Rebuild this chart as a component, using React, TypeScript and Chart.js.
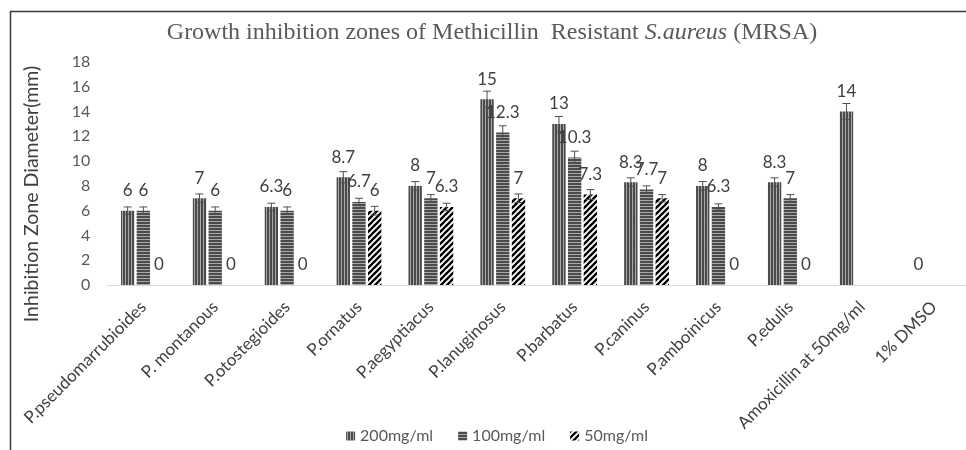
import React, { useEffect, useRef } from "react";
import { Chart, registerables } from "chart.js";

Chart.register(...registerables);

const categories = [
  "P.pseudomarrubioides",
  "P. montanous",
  "P.otostegioides",
  "P.ornatus",
  "P.aegyptiacus",
  "P.lanuginosus",
  "P.barbatus",
  "P.caninus",
  "P.amboinicus",
  "P.edulis",
  "Amoxicillin at 50mg/ml",
  "1% DMSO",
];

const seriesNames = ["200mg/ml", "100mg/ml", "50mg/ml"];

const values200 = [6, 7, 6.3, 8.7, 8, 15, 13, 8.3, 8, 8.3, 14, 0];
const values100 = [6, 6, 6, 6.7, 7, 12.3, 10.3, 7.7, 6.3, 7, null, null];
const values50 = [0, 0, 0, 6, 6.3, 7, 7.3, 7, 0, 0, null, null];

const errors200 = [0.3, 0.35, 0.3, 0.45, 0.35, 0.65, 0.6, 0.35, 0.35, 0.35, 0.65, 0];
const errors100 = [0.3, 0.3, 0.3, 0.3, 0.3, 0.55, 0.5, 0.3, 0.25, 0.3, null, null];
const errors50 = [0, 0, 0, 0.35, 0.3, 0.35, 0.4, 0.3, 0, 0, null, null];

const yTicks = [0, 2, 4, 6, 8, 10, 12, 14, 16, 18];

const titleParts = [
  { text: "Growth inhibition zones of Methicillin  Resistant ", italic: false },
  { text: "S.aureus", italic: true },
  { text: " (MRSA)", italic: false },
];
const yTitle = "Inhibition Zone Diameter(mm)";

const SANS = "Lato, 'Open Sans', sans-serif";
const SERIF = "'Liberation Serif', 'DejaVu Serif', serif";

function makePattern(kind: string): CanvasPattern | string {
  const c = document.createElement("canvas");
  const ctx = c.getContext("2d");
  if (!ctx) return "#555";
  if (kind === "v") {
    c.width = 3;
    c.height = 3;
    ctx.fillStyle = "#4a4a4a";
    ctx.fillRect(0, 0, 3, 3);
    ctx.fillStyle = "#a8a8a8";
    ctx.fillRect(2, 0, 1, 3);
  } else if (kind === "h") {
    c.width = 3;
    c.height = 3;
    ctx.fillStyle = "#4a4a4a";
    ctx.fillRect(0, 0, 3, 3);
    ctx.fillStyle = "#a8a8a8";
    ctx.fillRect(0, 2, 3, 1);
  } else {
    c.width = 6;
    c.height = 6;
    ctx.fillStyle = "#ffffff";
    ctx.fillRect(0, 0, 6, 6);
    ctx.strokeStyle = "#000000";
    ctx.lineWidth = 2.3;
    ctx.beginPath();
    ctx.moveTo(-1, 7);
    ctx.lineTo(7, -1);
    ctx.moveTo(-4, 4);
    ctx.lineTo(4, -4);
    ctx.moveTo(2, 10);
    ctx.lineTo(10, 2);
    ctx.stroke();
  }
  const p = ctx.createPattern(c, "repeat");
  return p || "#555";
}

const errorSets = [errors200, errors100, errors50];

const framePlugin = {
  id: "frame",
  beforeDraw(chart: any) {
    const ctx = chart.ctx;
    ctx.save();
    ctx.fillStyle = "#ffffff";
    ctx.fillRect(0, 0, chart.width, chart.height);
    ctx.strokeStyle = "#3a3a3a";
    ctx.lineWidth = 1.5;
    ctx.beginPath();
    ctx.moveTo(10.5, chart.height);
    ctx.lineTo(10.5, 11.5);
    ctx.lineTo(chart.width, 11.5);
    ctx.stroke();
    ctx.restore();
  },
};

const titlePlugin = {
  id: "mixedTitle",
  afterDraw(chart: any) {
    const ctx = chart.ctx;
    ctx.save();
    const size = 24;
    const fonts = titleParts.map((p) => `${p.italic ? "italic " : ""}${size}px ${SERIF}`);
    let total = 0;
    const widths = titleParts.map((p, i) => {
      ctx.font = fonts[i];
      const w = ctx.measureText(p.text).width;
      total += w;
      return w;
    });
    let x = 492 - total / 2;
    const y = 33;
    ctx.fillStyle = "#595959";
    ctx.textBaseline = "middle";
    ctx.textAlign = "left";
    titleParts.forEach((p, i) => {
      ctx.font = fonts[i];
      ctx.fillText(p.text, x, y);
      x += widths[i];
    });
    // y-axis title
    ctx.font = `19.5px ${SANS}`;
    ctx.fillStyle = "#404040";
    ctx.textAlign = "center";
    ctx.translate(32, 194);
    ctx.rotate(-Math.PI / 2);
    ctx.fillText(yTitle, 0, 0);
    ctx.restore();
  },
};

const legendPlugin = {
  id: "patternLegend",
  afterDraw(chart: any) {
    const ctx = chart.ctx;
    ctx.save();
    ctx.font = `16px ${SANS}`;
    ctx.textBaseline = "middle";
    ctx.textAlign = "left";
    const box = 9;
    const gapBoxText = 5;
    const gapItems = 25;
    const widths = seriesNames.map((n) => box + gapBoxText + ctx.measureText(n).width);
    const total = widths.reduce((a, b) => a + b, 0) + gapItems * (widths.length - 1);
    let x = 497 - total / 2;
    const y = 436;
    seriesNames.forEach((n, i) => {
      ctx.fillStyle = chart.data.datasets[i].backgroundColor;
      ctx.fillRect(x, y - box / 2, box, box);
      ctx.fillStyle = "#595959";
      ctx.fillText(n, x + box + gapBoxText, y);
      x += widths[i] + gapItems;
    });
    ctx.restore();
  },
};

const barExtrasPlugin = {
  id: "barExtras",
  afterDatasetsDraw(chart: any) {
    const ctx = chart.ctx;
    const yScale = chart.scales.y;
    ctx.save();
    chart.data.datasets.forEach((ds: any, di: number) => {
      const meta = chart.getDatasetMeta(di);
      const errs = errorSets[di];
      meta.data.forEach((el: any, i: number) => {
        const v = ds.data[i];
        if (v === null || v === undefined) return;
        const e = errs[i];
        if (e) {
          const yTop = yScale.getPixelForValue(v + e);
          const yBot = yScale.getPixelForValue(v - e);
          ctx.strokeStyle = "#505050";
          ctx.lineWidth = 1;
          ctx.beginPath();
          ctx.moveTo(el.x, yTop);
          ctx.lineTo(el.x, yBot);
          ctx.moveTo(el.x - 4, yTop);
          ctx.lineTo(el.x + 4, yTop);
          ctx.moveTo(el.x - 4, yBot);
          ctx.lineTo(el.x + 4, yBot);
          ctx.stroke();
        }
      });
    });
    ctx.font = `17px ${SANS}`;
    ctx.fillStyle = "#404040";
    ctx.textAlign = "center";
    ctx.textBaseline = "middle";
    chart.data.datasets.forEach((ds: any, di: number) => {
      const meta = chart.getDatasetMeta(di);
      meta.data.forEach((el: any, i: number) => {
        const v = ds.data[i];
        if (v === null || v === undefined) return;
        const y = yScale.getPixelForValue(v) - 20;
        ctx.fillText(String(v), el.x, y);
      });
    });
    ctx.restore();
  },
};

export default function App() {
  const ref = useRef<HTMLCanvasElement | null>(null);
  useEffect(() => {
    if (!ref.current) return;
    const patterns = [makePattern("v"), makePattern("h"), makePattern("d")];
    const allData = [values200, values100, values50];
    const chart = new Chart(ref.current, {
      type: "bar",
      data: {
        labels: categories,
        datasets: allData.map((d, i) => ({
          label: seriesNames[i],
          data: d as any,
          backgroundColor: patterns[i] as any,
          borderWidth: 0,
          categoryPercentage: 0.655,
          barPercentage: 0.85,
        })),
      },
      options: {
        responsive: false,
        animation: false,
        devicePixelRatio: 1,
        layout: { padding: { top: 62, left: 0, right: 0, bottom: 0 } },
        plugins: {
          legend: { display: false },
          title: { display: false },
          tooltip: { enabled: false },
        },
        scales: {
          x: {
            grid: { display: false },
            border: { display: true, color: "#d9d9d9", width: 1 },
            ticks: {
              minRotation: 45,
              maxRotation: 45,
              color: "#404040",
              padding: 4,
              font: { family: SANS, size: 17 },
            },
            afterFit: (scale: any) => {
              scale.height = 165;
            },
          },
          y: {
            min: 0,
            max: 18,
            afterBuildTicks: (scale: any) => {
              scale.ticks = yTicks.map((v) => ({ value: v }));
            },
            grid: { display: false, drawTicks: false },
            border: { display: false },
            ticks: {
              color: "#595959",
              padding: 17,
              font: { family: SANS, size: 16 },
            },
            afterFit: (scale: any) => {
              scale.width = 107.4;
            },
          },
        },
      },
      plugins: [framePlugin, titlePlugin, barExtrasPlugin, legendPlugin],
    });
    return () => chart.destroy();
  }, []);
  return (
    <div style={{ position: "fixed", left: 0, top: 0, width: 966, height: 450, overflow: "hidden", background: "#fff" }}>
      <canvas ref={ref} width={970} height={450} style={{ width: 970, height: 450, display: "block" }} />
    </div>
  );
}
